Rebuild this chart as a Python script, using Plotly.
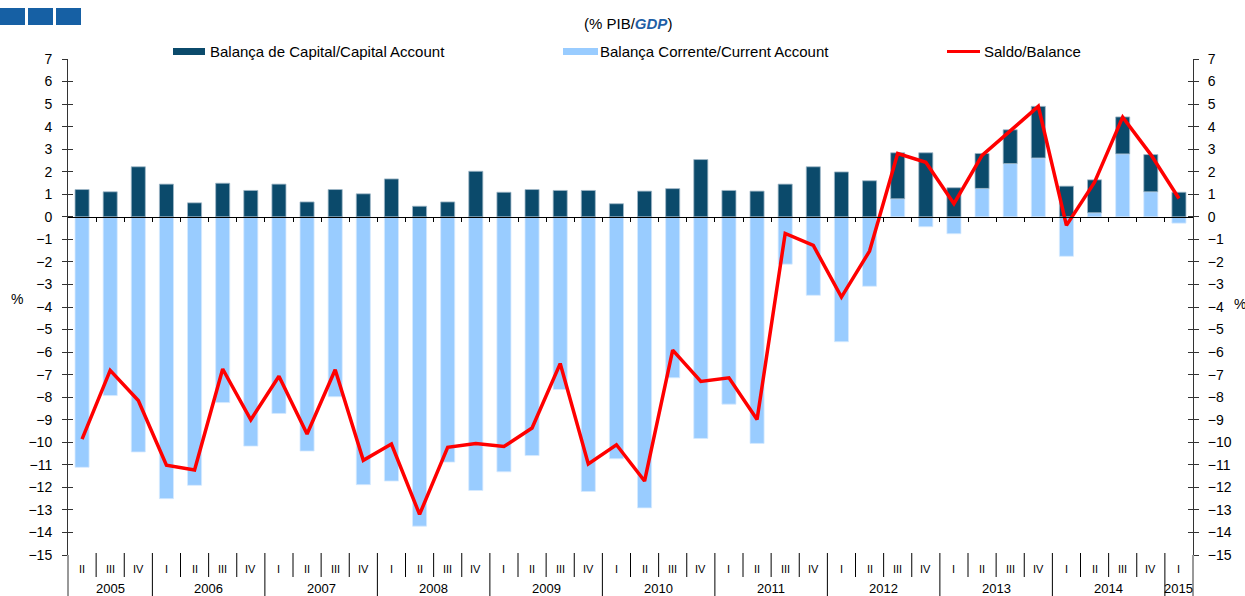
import plotly.graph_objects as go

# ---------------- data ----------------
quarters = ["II", "III", "IV",
            "I", "II", "III", "IV",
            "I", "II", "III", "IV",
            "I", "II", "III", "IV",
            "I", "II", "III", "IV",
            "I", "II", "III", "IV",
            "I", "II", "III", "IV",
            "I", "II", "III", "IV",
            "I", "II", "III", "IV",
            "I", "II", "III", "IV",
            "I"]
years = ["2005", "2006", "2007", "2008", "2009", "2010",
         "2011", "2012", "2013", "2014", "2015"]
quarters_per_year = [3, 4, 4, 4, 4, 4, 4, 4, 4, 4, 1]

capital_account = [1.21, 1.11, 2.22, 1.45, 0.62, 1.49, 1.17, 1.45, 0.66, 1.21,
                   1.02, 1.68, 0.47, 0.66, 2.02, 1.09, 1.21, 1.17, 1.17, 0.58,
                   1.14, 1.25, 2.54, 1.17, 1.14, 1.45, 2.22, 1.99, 1.60, 2.04,
                   2.84, 1.29, 1.55, 1.50, 2.29, 1.36, 1.46, 1.64, 1.65, 1.09]
current_account = [-11.11, -7.93, -10.43, -12.50, -11.91, -8.24, -10.17, -8.72, -10.39, -7.98,
                   -11.88, -11.72, -13.72, -10.88, -12.14, -11.31, -10.59, -7.66, -12.18, -10.73,
                   -12.91, -7.14, -9.83, -8.31, -10.05, -2.10, -3.48, -5.54, -3.08, 0.80,
                   -0.44, -0.75, 1.26, 2.36, 2.61, -1.75, 0.18, 2.79, 1.11, -0.28]
balance = [-9.86, -6.81, -8.15, -11.02, -11.23, -6.75, -9.00, -7.07, -9.63, -6.78,
           -10.80, -10.08, -13.20, -10.22, -10.05, -10.19, -9.37, -6.51, -10.96, -10.11,
           -11.72, -5.91, -7.30, -7.14, -8.99, -0.74, -1.27, -3.56, -1.52, 2.81,
           2.42, 0.58, 2.72, 3.80, 4.90, -0.38, 1.54, 4.42, 2.76, 0.81]

names = ["Balança de Capital/Capital Account",
         "Balança Corrente/Current Account",
         "Saldo/Balance"]

# ---------------- layout geometry ----------------
W, H = 1245, 596
L, R, T, B = 68, 1193, 59, 555          # plot area in pixels
YMIN, YMAX = -15, 7

def px(X):
    return (X - L) / (R - L)

def py(Y):
    return (B - Y) / (B - T)

DARK = "#0b4a6b"
LIGHT = "#99ccff"
RED = "#ff0000"
FONT = "Liberation Sans, Arial, sans-serif"

n = len(quarters)
xs = list(range(n))

fig = go.Figure()
fig.add_trace(go.Bar(x=xs, y=current_account, name=names[1],
                     marker=dict(color=LIGHT, line=dict(color="#d6eaff", width=0.8)),
                     showlegend=False))
fig.add_trace(go.Bar(x=xs, y=capital_account, name=names[0],
                     marker=dict(color=DARK, line=dict(color="#9fb8c8", width=0.8)),
                     showlegend=False))
fig.add_trace(go.Scatter(x=xs, y=balance, name=names[2], mode="lines",
                         line=dict(color=RED, width=3.5), showlegend=False))
# empty traces to activate the auxiliary tick axes
for ax in ["y2", "y3", "y4"]:
    fig.add_trace(go.Scatter(x=[], y=[], yaxis=ax, showlegend=False, hoverinfo="skip"))

tickfont = dict(family=FONT, size=14, color="#000000")
yticks = list(range(YMIN, YMAX + 1))

fig.update_layout(
    width=W, height=H,
    margin=dict(l=L, r=W - R, t=T, b=H - B),
    paper_bgcolor="white", plot_bgcolor="white",
    barmode="relative", bargap=0.5,
    showlegend=False,
    xaxis=dict(range=[-0.5, n - 0.5], anchor="free",
               position=(0 - YMIN) / (YMAX - YMIN),
               showline=True, linecolor="#000000", linewidth=1,
               ticks="outside", ticklen=4, tickcolor="#000000",
               tickvals=[i + 0.5 for i in range(n - 1)],
               showticklabels=False, showgrid=False, zeroline=False),
    yaxis=dict(range=[YMIN, YMAX], tickvals=yticks, ticks="outside", ticklen=5,
               tickcolor="#333333", showline=True, linecolor="#333333", linewidth=1,
               showgrid=False, zeroline=False, tickfont=tickfont,
               ticklabelstandoff=7),
    yaxis2=dict(range=[YMIN, YMAX], overlaying="y", side="left", tickvals=yticks,
                ticks="inside", ticklen=5, tickcolor="#333333",
                showticklabels=False, showgrid=False, zeroline=False, showline=False),
    yaxis3=dict(range=[YMIN, YMAX], overlaying="y", side="right", tickvals=yticks,
                ticks="outside", ticklen=5, tickcolor="#333333",
                showline=True, linecolor="#333333", linewidth=1,
                showgrid=False, zeroline=False, tickfont=tickfont,
                ticklabelstandoff=6),
    yaxis4=dict(range=[YMIN, YMAX], overlaying="y", side="right", tickvals=yticks,
                ticks="inside", ticklen=5, tickcolor="#333333",
                showticklabels=False, showgrid=False, zeroline=False, showline=False),
)

shapes = []
annotations = []

# axis lines extending below plot area
for xp in [0, 1]:
    shapes.append(dict(type="line", xref="paper", yref="paper",
                       x0=xp, x1=xp, y0=0, y1=py(H),
                       line=dict(color="#333333", width=1)))

# quarter / year separators
year_bounds = []
acc = 0
for q in quarters_per_year[:-1]:
    acc += q
    year_bounds.append(acc)
for i in range(1, n):
    bottom = py(H) if i in year_bounds else py(577)
    shapes.append(dict(type="line", xref="x", yref="paper",
                       x0=i - 0.5, x1=i - 0.5, y0=py(553), y1=bottom,
                       line=dict(color="#000000", width=1)))

# quarter labels
for i, q in enumerate(quarters):
    annotations.append(dict(x=i, y=py(569), xref="x", yref="paper", text=q,
                            showarrow=False, xanchor="center", yanchor="middle",
                            font=dict(family=FONT, size=11, color="#000000")))
# year labels
start = 0
for yr, q in zip(years, quarters_per_year):
    annotations.append(dict(x=start + (q - 1) / 2, y=py(588), xref="x", yref="paper",
                            text=yr, showarrow=False, xanchor="center", yanchor="middle",
                            font=dict(family=FONT, size=13, color="#000000")))
    start += q

# legend (manual)
legfont = dict(family=FONT, size=15, color="#000000")
shapes.append(dict(type="rect", xref="paper", yref="paper",
                   x0=px(173), x1=px(205), y0=py(55), y1=py(48),
                   fillcolor=DARK, line=dict(width=0)))
annotations.append(dict(x=px(208), y=py(51.5), xref="paper", yref="paper", text=names[0],
                        showarrow=False, xanchor="left", yanchor="middle", font=legfont))
shapes.append(dict(type="rect", xref="paper", yref="paper",
                   x0=px(563), x1=px(598), y0=py(55), y1=py(48),
                   fillcolor=LIGHT, line=dict(width=0)))
annotations.append(dict(x=px(598), y=py(51.5), xref="paper", yref="paper", text=names[1],
                        showarrow=False, xanchor="left", yanchor="middle", font=legfont))
shapes.append(dict(type="line", xref="paper", yref="paper",
                   x0=px(947), x1=px(980), y0=py(51.5), y1=py(51.5),
                   line=dict(color=RED, width=3)))
annotations.append(dict(x=px(982), y=py(51.5), xref="paper", yref="paper", text=names[2],
                        showarrow=False, xanchor="left", yanchor="middle", font=legfont))

# title
annotations.append(dict(x=px(628), y=py(23), xref="paper", yref="paper",
                        text="(% PIB/<b><i><span style='color:#1f5fa6'>GDP</span></i></b>)",
                        showarrow=False, xanchor="center", yanchor="middle",
                        font=dict(family=FONT, size=15, color="#000000")))

# % axis labels
annotations.append(dict(x=px(17), y=py(299), xref="paper", yref="paper", text="%",
                        showarrow=False, xanchor="center", yanchor="middle",
                        font=dict(family=FONT, size=14, color="#000000")))
annotations.append(dict(x=px(1240), y=py(304), xref="paper", yref="paper", text="%",
                        showarrow=False, xanchor="center", yanchor="middle",
                        font=dict(family=FONT, size=14, color="#000000")))

# top-left decorative squares
for x0, x1 in [(0, 25), (28, 53), (56, 81)]:
    shapes.append(dict(type="rect", xref="paper", yref="paper",
                       x0=px(x0), x1=px(x1), y0=py(25), y1=py(8),
                       fillcolor="#1660a4", line=dict(width=0)))

fig.update_layout(shapes=shapes, annotations=annotations)

fig.write_html("out.html")
